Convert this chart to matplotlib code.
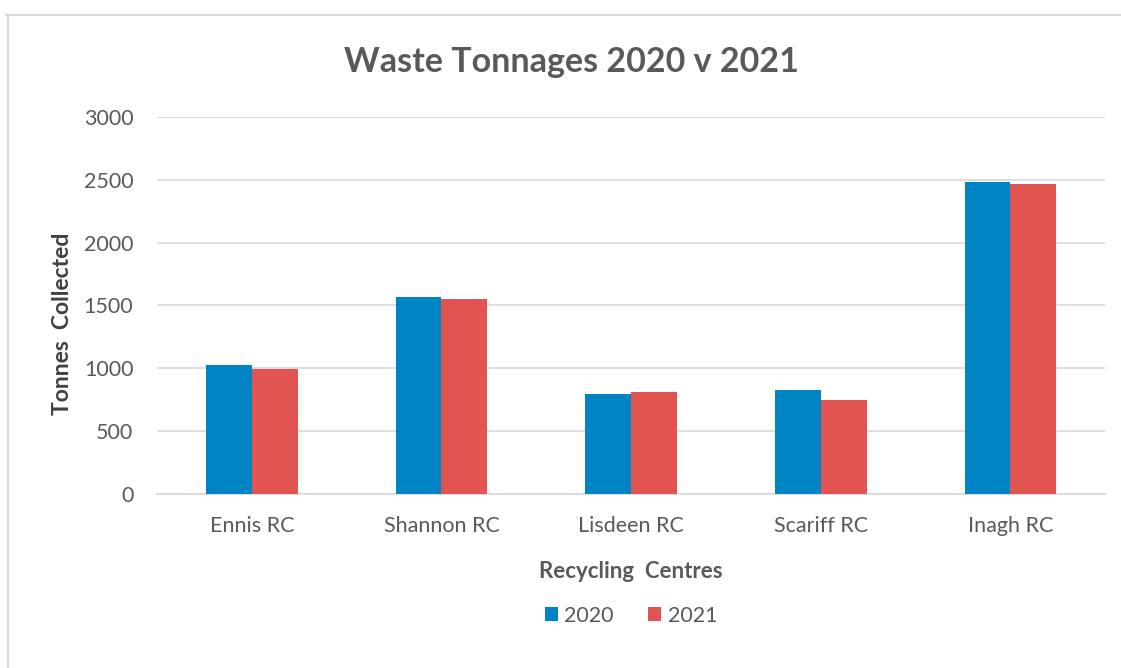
import matplotlib.pyplot as plt
import numpy as np
from matplotlib.lines import Line2D

centres = ['Ennis RC', 'Shannon RC', 'Lisdeen RC', 'Scariff RC', 'Inagh RC']
tonnes_2020 = [1024, 1570, 797, 828, 2479]
tonnes_2021 = [992, 1549, 812, 747, 2463]
yticks = [0, 500, 1000, 1500, 2000, 2500, 3000]

blue = '#0084C3'
red = '#E15451'
grey = '#595959'

plt.rcParams['font.family'] = ['Lato', 'DejaVu Sans']

fig = plt.figure(figsize=(11.21, 6.68), dpi=100, facecolor='white')
ax = fig.add_axes([0.140, 0.2605, 0.846, 0.5645])

x = np.arange(len(centres))
w = 0.242
ax.bar(x - w/2, tonnes_2020, width=w, color=blue, label='2020', zorder=3)
ax.bar(x + w/2, tonnes_2021, width=w, color=red, label='2021', zorder=3)

ax.set_xlim(-0.5, len(centres) - 0.5)
ax.set_ylim(0, 3000)
ax.set_yticks(yticks)
ax.set_xticks(x)
ax.set_xticklabels(centres)
ax.tick_params(axis='both', length=0, labelsize=15.5, labelcolor=grey)
ax.tick_params(axis='x', pad=16)
ax.tick_params(axis='y', pad=17)
ax.grid(axis='y', color='#D9D9D9', linewidth=1.2, zorder=0)
for s in ['top', 'right', 'left']:
    ax.spines[s].set_visible(False)
ax.spines['bottom'].set_color('#D9D9D9')
ax.spines['bottom'].set_linewidth(1.2)

fig.text(571/1121, 1 - 62/668, 'Waste Tonnages 2020 v 2021', fontsize=24.5,
         color=grey, fontweight='bold', ha='center', va='center')
ax.set_xlabel('Recycling  Centres', fontsize=16, color=grey,
              fontweight='bold', labelpad=18)
ax.set_ylabel('Tonnes  Collected', fontsize=16.5, color='#404040',
              fontweight='bold')
ax.yaxis.set_label_coords(-0.088, 0.45)

ax.legend(loc='upper center', bbox_to_anchor=(0.5, -0.245), ncol=2,
          frameon=False, fontsize=15.5, labelcolor=grey, handlelength=0.6,
          handleheight=0.6, handletextpad=0.3, columnspacing=1.6)

# outer chart border (top and left visible)
fig.add_artist(Line2D([0.005, 1.0], [1 - 15/668, 1 - 15/668],
                      transform=fig.transFigure, color='#D9D9D9', lw=1.5))
fig.add_artist(Line2D([8/1121, 8/1121], [0, 1 - 15/668],
                      transform=fig.transFigure, color='#D9D9D9', lw=1.5))

fig.savefig('out.png', dpi=100, facecolor='white')
